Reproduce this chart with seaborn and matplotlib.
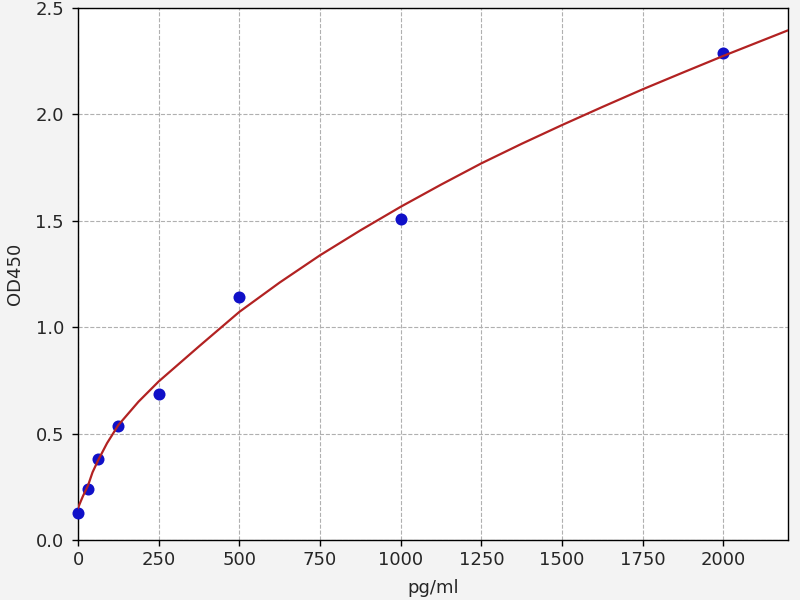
import numpy as np
import pandas as pd
import matplotlib
matplotlib.use("Agg")
import matplotlib.pyplot as plt
import seaborn as sns

# standard points
conc = [0, 31.25, 62.5, 125, 250, 500, 1000, 2000]
od450 = [0.125, 0.238, 0.38, 0.538, 0.688, 1.14, 1.51, 2.29]

# fitted curve
curve_x = [0, 8, 15, 31.25, 45, 62.5, 90, 125, 187.5, 250, 375, 500, 625, 750,
           875, 1000, 1125, 1250, 1375, 1500, 1625, 1750, 1875, 2000, 2100, 2200]
curve_y = [0.15, 0.18, 0.205, 0.257, 0.318, 0.375, 0.455, 0.54, 0.65, 0.745,
           0.91, 1.072, 1.21, 1.338, 1.455, 1.566, 1.67, 1.77, 1.862, 1.95,
           2.035, 2.118, 2.197, 2.275, 2.335, 2.395]

x_ticks = [0, 250, 500, 750, 1000, 1250, 1500, 1750, 2000]
y_ticks = [0.0, 0.5, 1.0, 1.5, 2.0, 2.5]

points = pd.DataFrame({'conc': conc, 'od': od450})
curve = pd.DataFrame({'x': curve_x, 'y': curve_y})

sns.set_style('white')
fig = plt.figure(figsize=(8, 6), dpi=100, facecolor='#f3f3f3')
ax = fig.add_axes([0.0975, 0.1, 0.8875, 0.8867])
ax.set_facecolor('white')

sns.scatterplot(data=points, x='conc', y='od', ax=ax, s=75, color='#1010c8',
                edgecolor='#1010c8', linewidth=0, zorder=3, clip_on=False)
sns.lineplot(data=curve, x='x', y='y', ax=ax, color='#b22222', linewidth=1.6,
             zorder=4, sort=True, estimator=None)

ax.set_xlim(0, 2200)
ax.set_ylim(0, 2.5)
ax.set_xticks(x_ticks)
ax.set_yticks(y_ticks)
ax.set_yticklabels([f'{v:.1f}' for v in y_ticks])
ax.grid(True, linestyle='--', color='#b0b0b0', linewidth=0.8)
ax.set_axisbelow(True)
for s in ax.spines.values():
    s.set_color('black')
    s.set_linewidth(1.0)
ax.tick_params(axis='both', which='both', direction='out', length=4, width=1,
               color='black', labelsize=13, bottom=True, left=True)
ax.tick_params(axis='x', pad=4)
ax.tick_params(axis='y', pad=6)
ax.set_xlabel('pg/ml', fontsize=13, labelpad=7)
ax.set_ylabel('OD450', fontsize=13, labelpad=8)

fig.savefig('out.png', dpi=100, facecolor=fig.get_facecolor())
